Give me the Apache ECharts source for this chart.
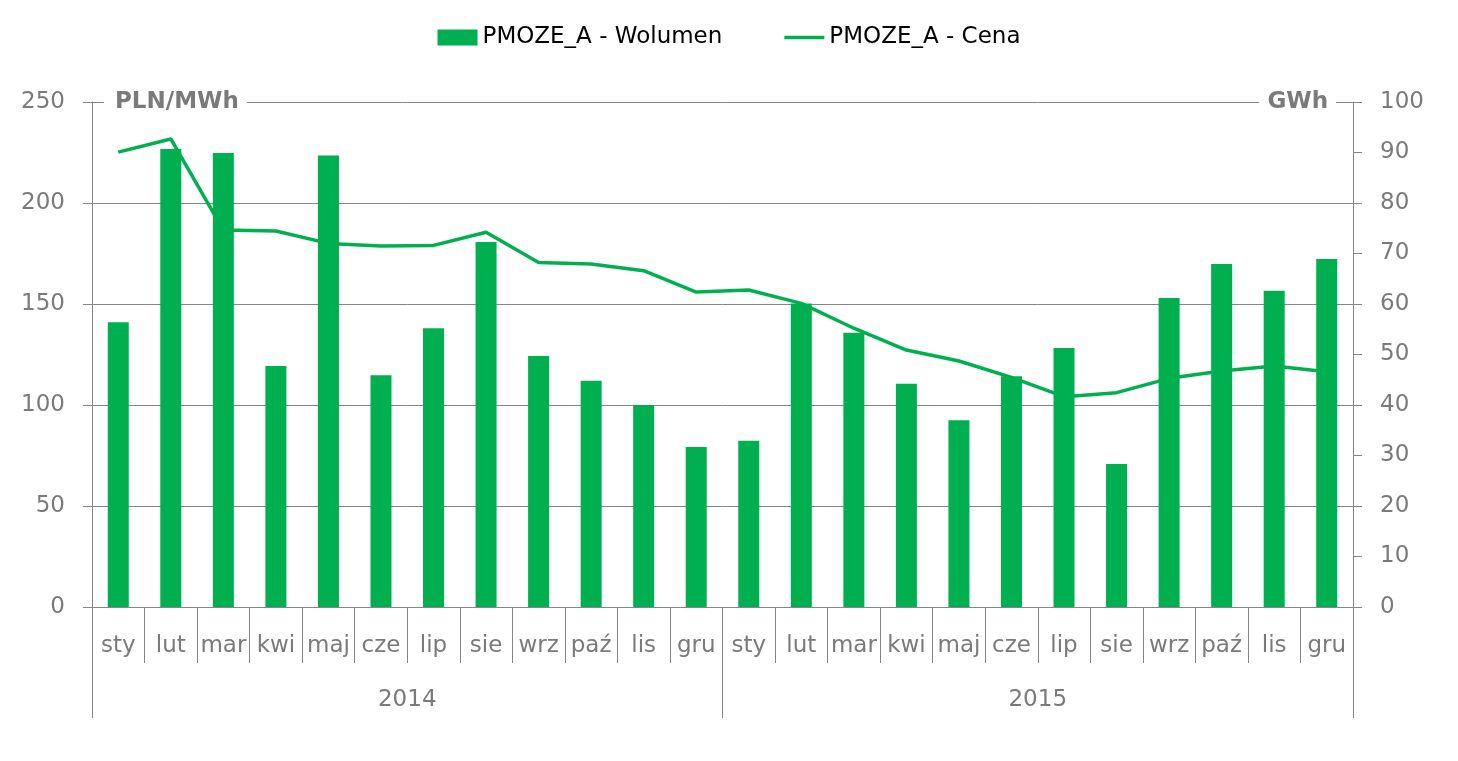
<!DOCTYPE html>
<html>
<head>
<meta charset="utf-8">
<script src="https://cdn.jsdelivr.net/npm/echarts@6/dist/echarts.min.js"></script>
<style>
html,body{margin:0;padding:0;background:#fff;}
#chart{width:1458px;height:761px;}
</style>
</head>
<body>
<div id="chart"></div>
<script>
const categories = ['sty','lut','mar','kwi','maj','cze','lip','sie','wrz','paź','lis','gru',
                    'sty','lut','mar','kwi','maj','cze','lip','sie','wrz','paź','lis','gru'];
const years = ['2014','2015'];
const volume = [56.4, 90.7, 89.9, 47.7, 89.4, 45.9, 55.2, 72.3, 49.7, 44.8, 40.0, 31.7,
                32.9, 60.1, 54.3, 44.2, 37.0, 45.7, 51.3, 28.3, 61.2, 67.9, 62.6, 68.9];
const price = [225.2, 231.7, 186.6, 186.1, 180.0, 178.7, 179.0, 185.5, 170.5, 169.8, 166.5, 155.9,
               156.9, 150.3, 138.0, 127.2, 121.8, 113.7, 104.1, 106.1, 113.2, 116.8, 119.3, 116.5];
const volumeName = 'PMOZE_A - Wolumen';
const priceName = 'PMOZE_A - Cena';
const leftUnit = 'PLN/MWh';
const rightUnit = 'GWh';

const FONT = 'DejaVu Sans';
const FS = 23;
const GREEN = '#00B050';
const AXIS = '#868686';
const LABEL = '#7a7a7a';

const chart = echarts.init(document.getElementById('chart'));
chart.setOption({
  animation: false,
  textStyle: { fontFamily: FONT },
  legend: {
    top: 21,
    left: 'center',
    itemWidth: 40,
    itemHeight: 16,
    itemGap: 62,
    textStyle: { fontSize: FS, color: '#000', fontFamily: FONT },
    data: [
      { name: volumeName, icon: 'rect' },
      { name: priceName, icon: 'path://M0,0 M0,6.3 L40,6.3 L40,9.7 L0,9.7 Z M40,16' }
    ]
  },
  grid: { left: 92, right: 105, top: 102, bottom: 154, containLabel: false },
  xAxis: [
    {
      type: 'category',
      data: categories,
      position: 'bottom',
      boundaryGap: true,
      axisLine: { show: true, lineStyle: { color: AXIS, width: 1 } },
      axisTick: { show: true, interval: 0, length: 56, lineStyle: { color: AXIS } },
      axisLabel: { interval: 0, fontSize: FS, color: LABEL, margin: 28, lineHeight: 22, fontFamily: FONT },
      splitLine: { show: false }
    },
    {
      type: 'category',
      data: years,
      position: 'bottom',
      boundaryGap: true,
      axisLine: { show: false },
      axisTick: { show: true, interval: 0, length: 111, lineStyle: { color: AXIS } },
      axisLabel: { interval: 0, fontSize: FS, color: LABEL, margin: 82, lineHeight: 22, fontFamily: FONT },
      splitLine: { show: false }
    }
  ],
  yAxis: [
    {
      type: 'value',
      min: 0, max: 250, interval: 50,
      position: 'left',
      axisLine: { show: true, lineStyle: { color: AXIS } },
      axisTick: { show: true, length: 9, lineStyle: { color: AXIS } },
      axisLabel: { fontSize: FS, color: LABEL, margin: 27, fontFamily: FONT },
      splitLine: { show: true, lineStyle: { color: AXIS, width: 1 } }
    },
    {
      type: 'value',
      min: 0, max: 100, interval: 10,
      position: 'right',
      axisLine: { show: true, lineStyle: { color: AXIS } },
      axisTick: { show: true, length: 9, lineStyle: { color: AXIS } },
      axisLabel: { fontSize: FS, color: LABEL, margin: 27, fontFamily: FONT },
      splitLine: { show: false }
    }
  ],
  graphic: [
    {
      type: 'text', z: 100, x: 104, y: 102,
      style: { text: leftUnit, fontFamily: FONT, fontWeight: 'bold', fontSize: FS, fill: LABEL,
               align: 'left', verticalAlign: 'middle',
               backgroundColor: '#fff', padding: [3, 8, 3, 11] }
    },
    {
      type: 'text', z: 100, x: 1336, y: 102,
      style: { text: rightUnit, fontFamily: FONT, fontWeight: 'bold', fontSize: FS, fill: LABEL,
               align: 'right', verticalAlign: 'middle',
               backgroundColor: '#fff', padding: [3, 8, 3, 8] }
    }
  ],
  series: [
    {
      name: volumeName,
      type: 'bar',
      xAxisIndex: 0,
      yAxisIndex: 1,
      data: volume,
      barWidth: '40%',
      itemStyle: { color: GREEN },
      z: 2
    },
    {
      name: priceName,
      type: 'line',
      xAxisIndex: 0,
      yAxisIndex: 0,
      data: price,
      symbol: 'none',
      lineStyle: { color: GREEN, width: 3.5 },
      itemStyle: { color: GREEN },
      z: 3
    }
  ]
});
</script>
</body>
</html>
